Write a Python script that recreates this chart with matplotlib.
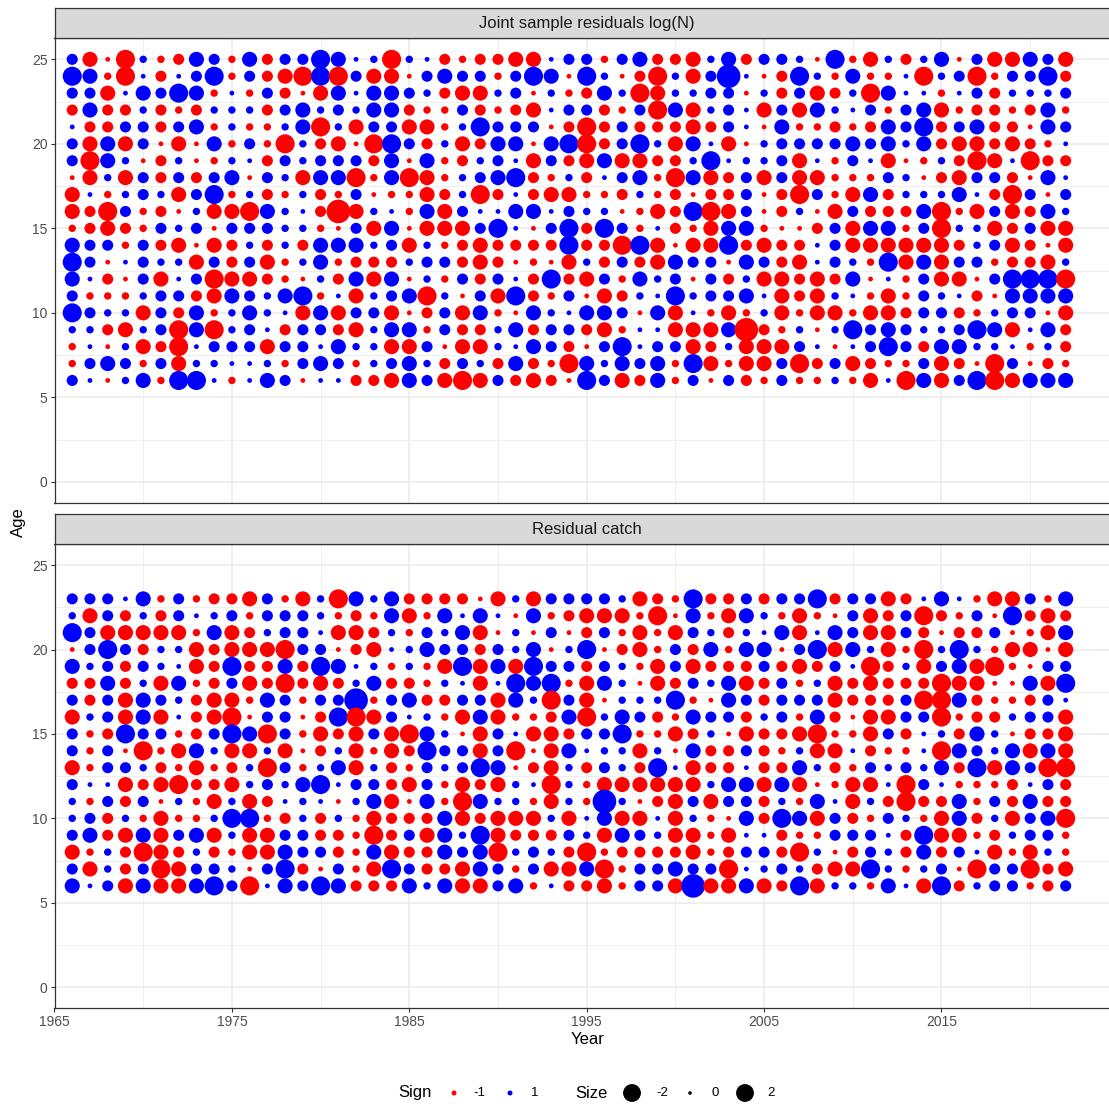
import matplotlib
matplotlib.use("Agg")
import matplotlib.pyplot as plt
import numpy as np

plt.rcParams['font.family'] = ['Liberation Sans', 'DejaVu Sans']

# ---------------- data ----------------
YEARS = list(range(1966, 2023))
AGES_TOP = list(range(25, 5, -1))      # 25 .. 6
AGES_BOT = list(range(23, 5, -1))      # 23 .. 6

# residual magnitude read per bubble: digits = positive (blue), letters = negative (red)
# level 1..6 -> magnitude
LEVEL_VALUE = [0.06, 0.26, 0.70, 1.40, 2.31, 3.61]

TOP_ROWS = [
    "3dae2bc43b4c33" + "5412e21cbccdd1" + "33b34ccd24c332" + "a5bd2c24a3dd43d",   # 25
    "54be1c135b3cde" + "5e3dda3433b354" + "a52ace2d361ac5" + "2b4bb1e23eb335c",   # 24
    "33d14354b1b3ca" + "d414432cdd23a2" + "bc42ed2233a2c3" + "dc2e411b13c2223",   # 23
    "c4cc2cbc222c34" + "23244cbb3cbcd1" + "33cb3e4d231d3d" + "4213b34dbccbc4b",   # 22
    "1cc33c34b2bb24" + "e2d33ddb25333a" + "cec3cccdc31a4b" + "bcbc435c34cca43",   # 21
    "3d4d3ada4b3be2" + "cdae53c2dc44a4" + "5ec352d41da233" + "3343424cddcdcb1",   # 20
    "3e42ac2ab21c32" + "333c4a4bc231d3" + "cd4ddcc251223d" + "1b31dab2ced1ecc",   # 19
    "ad2d3c3c34a32d" + "44eb4edb2345cb" + "2c134be4dc3d3d" + "dbbb32acd33ca41",   # 18
    "d1b232d35b2cb2" + "cb3abbdc2ec1cd" + "dbbc2bcacc3ace" + "3bd4c22241ce3a3",   # 17
    "dce3bca2dde421" + "cfd21b4d311441" + "322abdc5ed3ac2" + "ad3ccc4ebd3dc42",   # 16
    "bcdcb323a33322" + "ba3d4addd351a3" + "5c53b1cbd44baa" + "c3d44b3e22dc3dd",   # 15
    "433b3cdadc2c2c" + "44423d2bcdcccc" + "5cce5dadd5cdcc" + "13ddddddc23dcad",   # 14
    "53a1322d3c3db2" + "4bccc233cdcaba" + "d2c3cd433a43cd" + "132b5d4d33bccd2",   # 13
    "41ca3d13eddcba" + "2c4d4a2b3c31c5" + "cd3b423a3c2ddc" + "dc4a1b3dda3555e",   # 12
    "3bbb233cd43245" + "b1d234e2a3d5cb" + "3adc21523341dc" + "d21bdb321ca4444",   # 11
    "5322d3c4b2421d" + "4d33dac3d4ba42" + "1443a4d1bdb2db" + "ddbddc33cb233ad",   # 10
    "22cd23e4e231c3" + "3cd244b3cc24c3" + "3cdb11ddd4fcb2" + "a2534322354d14c",   # 9
    "b1a2dce1333d33" + "1422dd3add2143" + "ca35133dc2ddd3" + "1a1353c44221b2c",   # 8
    "b343b3d22112b3" + "43b2342c32c4cb" + "e42434b5dbdd3e" + "c3dcbb3dcae3acb",   # 7
    "31a24b551b143a" + "11ccd43ded3cdc" + "a53dc4b3a3cb3b" + "b2bd1e4d35ed444",   # 6
]

BOT_ROWS = [
    "33314b3bccd3bd" + "2e424ccccad2d3" + "3332dcb5cc3c33" + "5c33dc141bdd3b4",   # 23
    "2d3c2c3123b333" + "2bcb4db4141a4b" + "cdddbea4bd42bd" + "ba3dc3ecb3a5cdc",   # 22
    "53dddddb4dc233" + "1ddc2b324da2a3" + "ac3bdbd32c214d" + "143dd3cacc3abd4",   # 21
    "a353c22dcddde3" + "3acd12433c324a" + "25acdb3c4b44a3" + "5d42dbe252bddad",   # 20
    "423c321dc5cc4c" + "5412b2bd5d4d53" + "3c32bd3dccc3cd" + "c31ec2d34deba33",   # 19
    "cc4c2d4bc3dcec" + "dc24ccb21d1545" + "bd42adc324dc3b" + "2dcdccceddaa4d5",   # 18
    "3c3d432cddb43b" + "336b34cc33d42e" + "3da2225ba43c33" + "3dccc3ee4cbbc31",   # 17
    "d23d4d1cdea33a" + "c5ed312bd4dbbc" + "4e243cb433c23b" + "4cadd33ebcc233d",   # 16
    "3bc533bc354e3b" + "dcd3de42ad31dd" + "c335bbdc2adccd" + "ebbd3c12c42accd",   # 15
    "3b3aebd42dd2da" + "c2dbdc533d3ead" + "4122d2a4cc3cb2" + "dd1cbb1e4324d4d",   # 14
    "db332cbdbc2e3b" + "24d2cb32354acd" + "2c32c51dcc1cc4" + "2cb32324c5d43ee",   # 13
    "311dcdeccd2324" + "5133cd3bdcd21e" + "2bdddddd244d4d" + "abdd1e31bbbc13c",   # 12
    "2b3c3a2bd2dc12" + "1a24da4be422bd" + "2b62acd3d33c2b" + "41d2cecc4b3c4cc",   # 11
    "23c2bdbb255bc2" + "c2bdccc4dcddd2" + "d14dd1d2ba4c54" + "d3cb32bd4c2d34e",   # 10
    "34cd4d34d2dd33" + "ccbec3d425dccc" + "32d432ddbd11cb" + "b3331c5ddbc233b",   # 9
    "db2cedc2cbdd43" + "3cb4dcc434e232" + "cebccccdbc33ce" + "2ac32c4c31dbd2b",   # 8
    "3d2c3ed332a35c" + "a3bd53ccd43b3d" + "d4eb33433e1232" + "cdd52b23ae33ecd",   # 7
    "413d4dd453e143" + "54ccc424dd34b1" + "ccdb33d6dd4dc5" + "d22b41d5c233bc3",   # 6
]

PANEL_TITLES = ["Joint sample residuals log(N)", "Residual catch"]
X_TICKS = [1965, 1975, 1985, 1995, 2005, 2015]
Y_TICKS = [0, 5, 10, 15, 20, 25]
SIGN_LEVELS = [-1, 1]
SIZE_BREAKS = [-2, 0, 2]

RED = "#FF0000"
BLUE = "#0000FF"


def decode(rows, ages):
    xs, ys, vs = [], [], []
    for age, row in zip(ages, rows):
        if len(row) != len(YEARS):
            raise ValueError(f"row for age {age} has {len(row)} entries")
        for yr, ch in zip(YEARS, row):
            if ch.isdigit():
                v = LEVEL_VALUE[int(ch) - 1]
            else:
                v = -LEVEL_VALUE[ord(ch) - ord('a')]
            xs.append(yr)
            ys.append(age)
            vs.append(v)
    return np.array(xs), np.array(ys), np.array(vs)


def size_pt2(v):
    # diameter in pixels: sqrt(d0^2 + c^2 |v|) plus a thin stroke (area grows with |v|)
    d_px = np.sqrt(3.0 ** 2 + 12.0 ** 2 * np.abs(v)) + 0.6
    return (d_px * 0.72) ** 2


# ---------------- layout ----------------
W_PX, H_PX = 1109, 1106
fig = plt.figure(figsize=(W_PX / 100, H_PX / 100), dpi=100)

left_px, right_px = 54.5, 1120.0
panels_px = [(38.2, 503.0), (544.0, 1008.3)]
strips_px = [(8.0, 38.2), (514.0, 544.0)]
PX_PER_YEAR = 17.74
xlim = (1965, 1965 + (right_px - left_px) / PX_PER_YEAR)


def fr(x0, top, x1, bot):
    return [x0 / W_PX, 1 - bot / H_PX, (x1 - x0) / W_PX, (bot - top) / H_PX]


data = [decode(TOP_ROWS, AGES_TOP), decode(BOT_ROWS, AGES_BOT)]

for i, ((ptop, pbot), (stop, sbot)) in enumerate(zip(panels_px, strips_px)):
    ax = fig.add_axes(fr(left_px, ptop, right_px, pbot))
    xs, ys, vs = data[i]
    cols = np.where(vs < 0, RED, BLUE)
    ax.scatter(xs, ys, s=size_pt2(vs), c=cols, edgecolors='none', zorder=3)
    ax.set_xlim(*xlim)
    ax.set_ylim(-1.25, 26.25)
    ax.set_xticks(X_TICKS)
    ax.set_xticks([1970, 1980, 1990, 2000, 2010, 2020], minor=True)
    ax.set_yticks(Y_TICKS)
    ax.set_yticks([2.5, 7.5, 12.5, 17.5, 22.5], minor=True)
    ax.grid(which='major', color='#EBEBEB', lw=1.1, zorder=0)
    ax.grid(which='minor', color='#EBEBEB', lw=0.55, zorder=0)
    ax.set_axisbelow(True)
    for sp in ax.spines.values():
        sp.set_color('#333333')
        sp.set_linewidth(0.9)
    ax.tick_params(which='minor', length=0)
    ax.tick_params(axis='y', which='major', length=3, width=0.8, color='#333333',
                   labelsize=10, labelcolor='#4D4D4D', pad=2)
    if i == 0:
        ax.tick_params(axis='x', which='both', bottom=False, labelbottom=False)
    else:
        ax.tick_params(axis='x', which='major', length=3, width=0.8, color='#333333',
                       labelsize=10, labelcolor='#4D4D4D', pad=2)

    sax = fig.add_axes(fr(left_px, stop, right_px, sbot))
    sax.set_facecolor('#D9D9D9')
    sax.set_xticks([])
    sax.set_yticks([])
    for sp in sax.spines.values():
        sp.set_color('#333333')
        sp.set_linewidth(0.9)
    sax.text(0.5, 0.5, PANEL_TITLES[i], ha='center', va='center', fontsize=12,
             color='#1A1A1A', transform=sax.transAxes)

# axis titles
fig.text(588 / W_PX, 1 - 1040 / H_PX, "Year", ha='center', va='center', fontsize=12)
fig.text(18 / W_PX, 1 - 522 / H_PX, "Age", ha='center', va='center', fontsize=12,
         rotation=90)

# ---------------- legend ----------------
lax = fig.add_axes([0, 0, 1, 1], facecolor='none')
lax.set_xlim(0, W_PX)
lax.set_ylim(H_PX, 0)
lax.axis('off')
ly = 1093
lax.text(415, ly, "Sign", ha='center', va='center', fontsize=12)
sign_x = [454, 510]
sign_lab_x = [479, 535]
for sv, xx, tx in zip(SIGN_LEVELS, sign_x, sign_lab_x):
    lax.scatter([xx], [ly], s=(5 * 0.72) ** 2, c=RED if sv < 0 else BLUE,
                edgecolors='none')
    lax.text(tx, ly, str(sv), ha='center', va='center', fontsize=9.5)
lax.text(591, ly, "Size", ha='center', va='center', fontsize=12)
size_x = [632, 690, 745]
size_lab_x = [662, 715, 771]
for sv, xx, tx in zip(SIZE_BREAKS, size_x, size_lab_x):
    lax.scatter([xx], [ly], s=size_pt2(sv), c='black', edgecolors='none')
    lax.text(tx, ly, str(sv), ha='center', va='center', fontsize=9.5)

fig.savefig("out.png", dpi=100)
